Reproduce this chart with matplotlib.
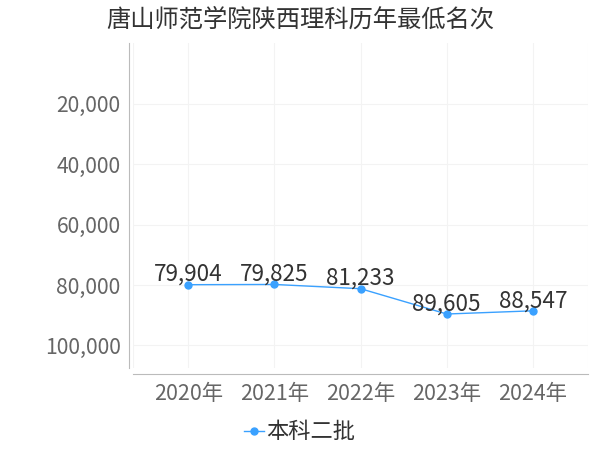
import matplotlib
matplotlib.use("Agg")
import matplotlib.pyplot as plt
from matplotlib.ticker import FuncFormatter

plt.rcParams["font.family"] = ["Noto Sans CJK SC", "DejaVu Sans"]

years = ["2020年", "2021年", "2022年", "2023年", "2024年"]
ranks = [79904, 79825, 81233, 89605, 88547]
series_name = "本科二批"
yticks = [20000, 40000, 60000, 80000, 100000]

line_color = "#3aa1ff"

fig = plt.figure(figsize=(6, 4.5), dpi=100)
ax = fig.add_axes([0.222, 0.182, 0.758, 0.722])

x = list(range(len(years)))
ax.plot(x, ranks, color=line_color, lw=1, marker="o", ms=5, label=series_name)
for xi, v in zip(x, ranks):
    ax.annotate(f"{v:,}", (xi, v), xytext=(0, -1), textcoords="offset points",
                ha="center", va="bottom", fontsize=16.2, color="#333333")

ax.set_xlim(-0.64, 4.64)
ax.set_ylim(107500, 0)
ax.set_yticks(yticks)
ax.yaxis.set_major_formatter(FuncFormatter(lambda v, p: f"{int(v):,}"))
ax.tick_params(axis="y", labelsize=15.2, colors="#666666", length=0, pad=6)
ax.tick_params(axis="x", labelsize=15.4, colors="#666666", length=0, pad=7)

ax.set_xticks([-0.64, 0, 1, 2, 3, 4, 4.64])
ax.set_xticklabels([""] + years + [""])
ax.grid(True, color="#f3f3f3", lw=0.8)

for s in ["top", "right"]:
    ax.spines[s].set_visible(False)
ax.spines["left"].set_position(("outward", 3))
ax.spines["bottom"].set_position(("outward", 4))
ax.spines["left"].set_color("#bbbbbb")
ax.spines["bottom"].set_color("#bbbbbb")

fig.text(0.5, 0.956, "唐山师范学院陕西理科历年最低名次", ha="center", va="center",
         fontsize=17.5, color="#333333")

fig.legend(loc="center", bbox_to_anchor=(0.5, 0.04), frameon=False, fontsize=16,
           handlelength=0.9, handletextpad=0.1, labelcolor="#333333")

fig.savefig("out.png", dpi=100)
